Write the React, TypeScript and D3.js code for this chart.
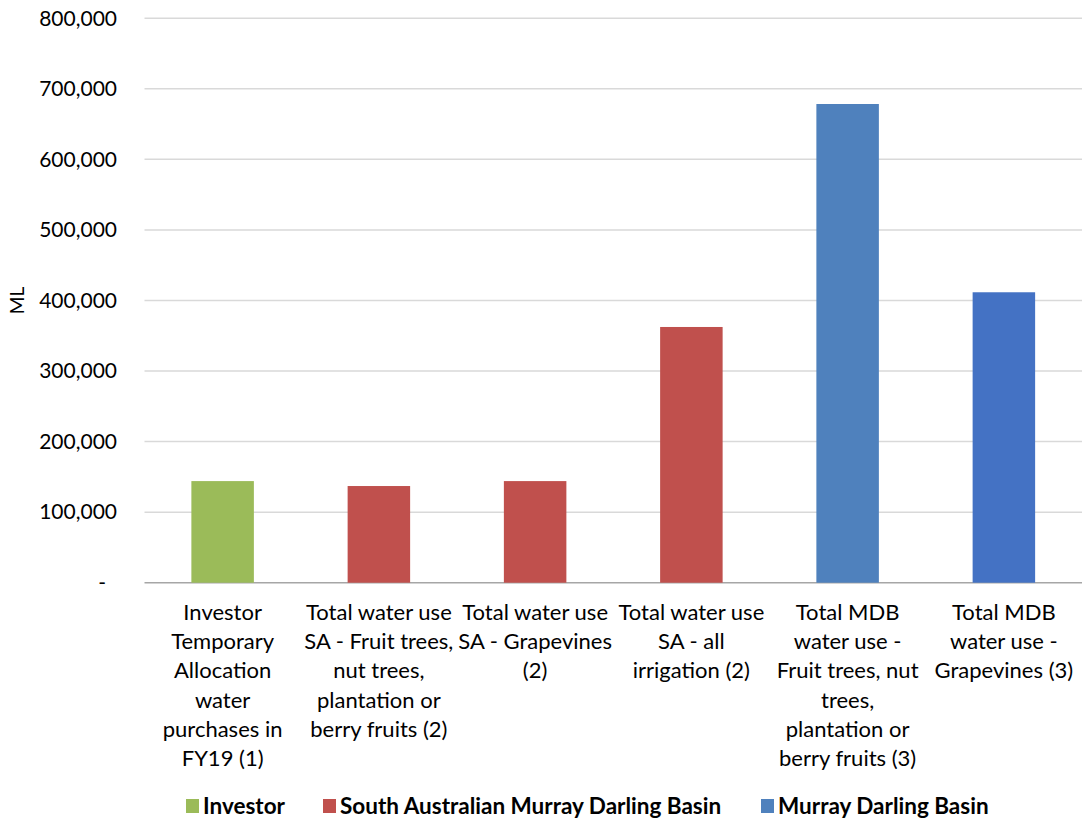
import React from "react";
import * as d3 from "d3";

const categories: string[][] = [
  ["Investor", "Temporary", "Allocation", "water", "purchases in", "FY19 (1)"],
  ["Total water use", "SA - Fruit trees,", "nut trees,", "plantation or", "berry fruits (2)"],
  ["Total water use", "SA - Grapevines", "(2)"],
  ["Total water use", "SA - all", "irrigation (2)"],
  ["Total MDB", "water use -", "Fruit trees, nut", "trees,", "plantation or", "berry fruits (3)"],
  ["Total MDB", "water use -", "Grapevines (3)"],
];
const values: number[] = [144000, 137000, 144000, 362400, 678400, 411600];
const barColors: string[] = ["#9BBB59", "#C0504D", "#C0504D", "#C0504D", "#4F81BD", "#4472C4"];
const yTicks: number[] = [0, 100000, 200000, 300000, 400000, 500000, 600000, 700000, 800000];
const legendLabels: string[] = ["Investor", "South Australian Murray Darling Basin", "Murray Darling Basin"];
const legendColors: string[] = ["#9BBB59", "#C0504D", "#4F81BD"];
const legendX: number[] = [186, 323, 761];
const yTitle = "ML";

const W = 1083;
const H = 823;
const left = 144.5;
const right = 1082;
const top = 18.2;
const bottom = 582.7;
const FONT = "Lato, 'Open Sans', sans-serif";

export default function App() {
  const x = d3
    .scaleBand<number>()
    .domain(d3.range(categories.length))
    .range([left, right])
    .paddingInner(0.6)
    .paddingOuter(0.3);
  const y = d3.scaleLinear().domain([0, 800000]).range([bottom, top]);
  const fmt = d3.format(",");

  return (
    <div style={{ position: "absolute", left: 0, top: 0 }}>
      <svg width={W} height={H} style={{ display: "block", background: "#fff" }} fontFamily={FONT}>
        {yTicks.map((t) => (
          <line
            key={"g" + t}
            x1={left}
            x2={right}
            y1={y(t)}
            y2={y(t)}
            stroke={t === 0 ? "#A6A6A6" : "#D9D9D9"}
            strokeWidth={1.5}
          />
        ))}
        {yTicks.map((t) => (
          <text
            key={"t" + t}
            x={t === 0 ? 106 : 117}
            y={y(t)}
            dy="0.35em"
            textAnchor="end"
            fontSize={21}
            fill="#000"
          >
            {t === 0 ? "-" : fmt(t)}
          </text>
        ))}
        <text
          transform={`translate(24, ${(top + bottom) / 2}) rotate(-90)`}
          textAnchor="middle"
          fontSize={19}
          fill="#000"
        >
          {yTitle}
        </text>
        {values.map((v, i) => (
          <rect
            key={"b" + i}
            x={x(i)}
            y={y(v)}
            width={x.bandwidth()}
            height={y(0) - y(v)}
            fill={barColors[i]}
          />
        ))}
        {categories.map((lines, i) => (
          <text
            key={"c" + i}
            x={(x(i) as number) + x.bandwidth() / 2}
            y={612}
            textAnchor="middle"
            fontSize={22}
            fill="#000"
          >
            {lines.map((l, j) => (
              <tspan key={j} x={(x(i) as number) + x.bandwidth() / 2} y={612 + j * 29.3} dy="0.35em">
                {l}
              </tspan>
            ))}
          </text>
        ))}
        {legendLabels.map((l, i) => (
          <g key={"l" + i}>
            <rect x={legendX[i]} y={799} width={13} height={14} fill={legendColors[i]} />
            <text x={legendX[i] + 17} y={806} dy="0.35em" fontSize={22.5} fontWeight="bold" fill="#000">
              {l}
            </text>
          </g>
        ))}
      </svg>
    </div>
  );
}
